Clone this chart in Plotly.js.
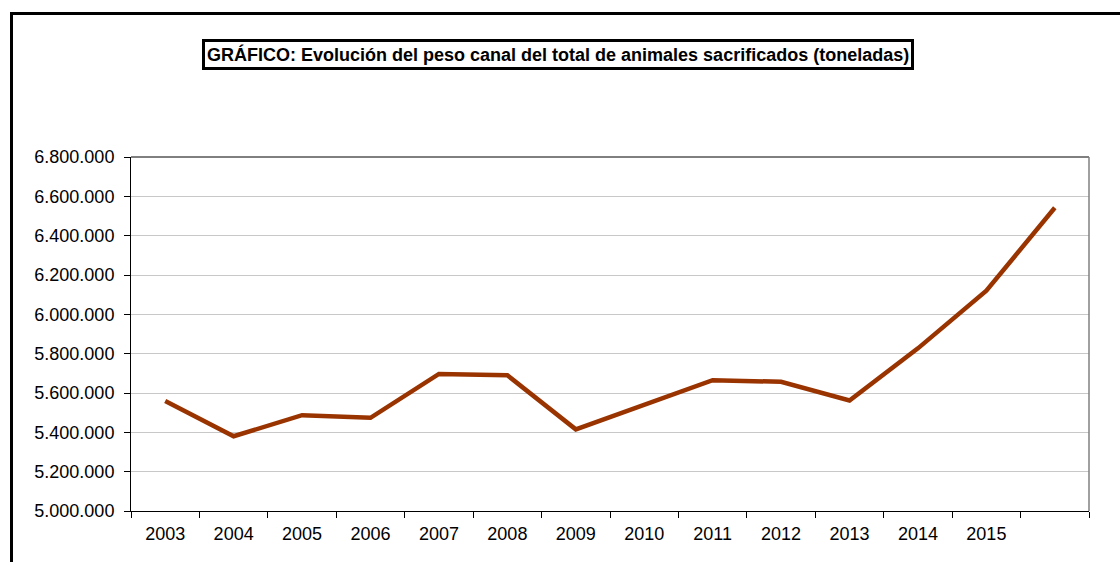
<!DOCTYPE html>
<html>
<head>
<meta charset="utf-8">
<script src="https://cdn.plot.ly/plotly-3.0.1.min.js"></script>
<style>
  html, body { margin: 0; padding: 0; background: #ffffff; }
  #chart { width: 1120px; height: 562px; }
</style>
</head>
<body>
<div id="chart"></div>
<script>
const years = ["2003","2004","2005","2006","2007","2008","2009","2010","2011","2012","2013","2014","2015"," "];
const pesoCanal = [5559000, 5380000, 5487000, 5474000, 5697000, 5690000, 5415000, 5540000, 5665000, 5657000, 5562000, 5827000, 6120000, 6542000];
const titleText = "GRÁFICO: Evolución del peso canal del total de animales sacrificados (toneladas)";

const ML = 131, MR = 31, MT = 157, MB = 51, W = 1120, H = 562;
const PW = W - ML - MR, PH = H - MT - MB;
const px = x => (x - ML) / PW;
const py = y => (H - MB - y) / PH;

const trace = {
  type: "scatter",
  mode: "lines",
  x: years,
  y: pesoCanal,
  line: { color: "#993300", width: 4.5 },
  hoverinfo: "x+y"
};

const layout = {
  width: W, height: H,
  margin: { l: ML, r: MR, t: MT, b: MB, pad: 0 },
  paper_bgcolor: "#ffffff",
  plot_bgcolor: "#ffffff",
  separators: ",.",
  showlegend: false,
  font: { family: "Liberation Sans, Arial, sans-serif", color: "#000000", size: 18 },
  xaxis: {
    type: "category",
    range: [-0.5, 13.5],
    tickson: "boundaries",
    ticks: "outside",
    ticklen: 6,
    tickcolor: "#000000",
    tickwidth: 1,
    showline: true,
    linecolor: "#000000",
    linewidth: 1,
    showgrid: false,
    zeroline: false,
    fixedrange: true,
    ticklabelstandoff: 6,
    tickfont: { size: 18, color: "#000000" }
  },
  yaxis: {
    range: [5000000, 6800000],
    dtick: 200000,
    tick0: 5000000,
    tickformat: ",d",
    ticks: "outside",
    ticklen: 6,
    tickcolor: "#000000",
    showline: true,
    linecolor: "#000000",
    linewidth: 1,
    showgrid: true,
    gridcolor: "#c8c8c8",
    gridwidth: 1,
    zeroline: false,
    fixedrange: true,
    ticklabelstandoff: 6,
    tickfont: { size: 18, color: "#000000" }
  },
  shapes: [
    { type: "line", xref: "paper", yref: "paper", x0: 0, x1: 1, y0: 1, y1: 1,
      line: { color: "#000000", width: 1 } },
    { type: "line", xref: "paper", yref: "paper", x0: 1, x1: 1, y0: 0, y1: 1,
      line: { color: "#808080", width: 1.5 } },
    { type: "line", xref: "paper", yref: "paper", x0: px(10), x1: px(1140), y0: py(13.5), y1: py(13.5),
      line: { color: "#000000", width: 3 } },
    { type: "line", xref: "paper", yref: "paper", x0: px(11.5), x1: px(11.5), y0: py(12), y1: py(600),
      line: { color: "#000000", width: 3 } }
  ],
  annotations: [
    { xref: "paper", yref: "paper", x: px(557.5), y: py(54.5),
      xanchor: "center", yanchor: "middle", showarrow: false,
      text: "<b>" + titleText + "</b>",
      font: { size: 18, color: "#000000", family: "Liberation Sans, Arial, sans-serif" },
      bordercolor: "#000000", borderwidth: 3, borderpad: 2, bgcolor: "#ffffff" }
  ]
};

Plotly.newPlot("chart", [trace], layout, { displayModeBar: false, staticPlot: true });
</script>
</body>
</html>
